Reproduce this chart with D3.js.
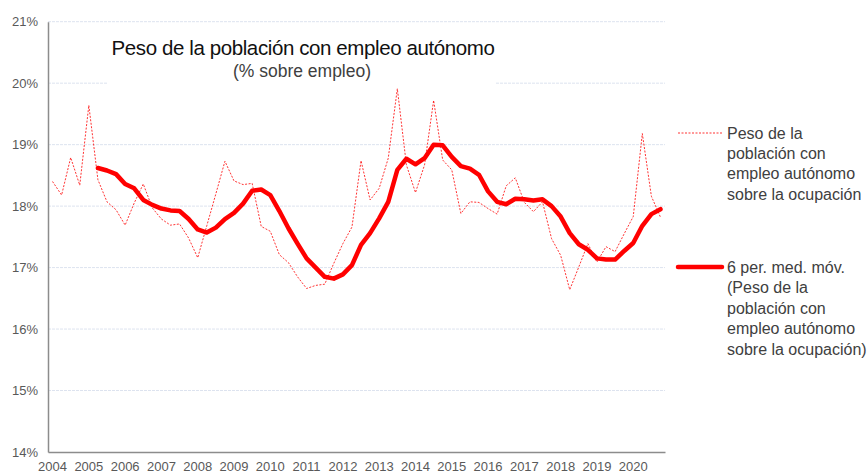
<!DOCTYPE html>
<html>
<head>
<meta charset="utf-8">
<script src="https://cdn.jsdelivr.net/npm/d3@7"></script>
<style>
  html, body { margin: 0; padding: 0; background: #fff; }
  svg { display: block; font-family: "Liberation Sans", Arial, Helvetica, sans-serif; }
</style>
</head>
<body>
<svg id="chart" width="868" height="475"></svg>
<script>
// ---- Data ----
const years = [2004,2005,2006,2007,2008,2009,2010,2011,2012,2013,2014,2015,2016,2017,2018,2019,2020];
const quarters = ["T1","T2","T3","T4"];
const categories = years.flatMap(yr => quarters.map(q => yr + "-" + q));

// Peso de la población con empleo autónomo sobre la ocupación (%)
const autonomo = [
  18.40,18.18,18.79,18.34,19.64,18.43,18.07,17.94,17.69,18.05,
  18.36,17.97,17.79,17.69,17.71,17.48,17.16,17.68,18.20,18.73,
  18.41,18.35,18.37,17.67,17.59,17.21,17.08,16.85,16.66,16.71,
  16.73,17.07,17.39,17.66,18.74,18.10,18.29,18.78,19.91,18.67,
  18.22,18.67,19.72,18.75,18.59,17.88,18.07,18.06,17.96,17.87,
  18.33,18.46,18.06,17.91,18.07,17.47,17.20,16.64,17.01,17.39,
  17.09,17.34,17.26,17.55,17.83,19.18,18.16,17.82
];
// 6 per. med. móv.
const mediaMovil = [
  null,null,null,null,null,
  18.62,18.58,18.52,18.36,18.29,18.10,18.02,17.96,17.93,17.92,
  17.79,17.62,17.57,17.65,17.79,17.89,18.04,18.25,18.27,18.18,
  17.92,17.64,17.39,17.15,17.00,16.85,16.82,16.89,17.04,17.37,
  17.56,17.80,18.07,18.59,18.77,18.68,18.78,19.00,18.99,18.80,
  18.65,18.61,18.51,18.24,18.07,18.03,18.12,18.11,18.09,18.11,
  18.00,17.83,17.56,17.38,17.29,17.15,17.13,17.13,17.27,17.40,
  17.68,17.87,17.95
];
const yTicks = [14,15,16,17,18,19,20,21];

const titleText = "Peso de la población con empleo autónomo";
const subtitleText = "(% sobre empleo)";
const legend1 = ["Peso de la","población con","empleo autónomo","sobre la ocupación"];
const legend2 = ["6 per. med. móv.","(Peso de la","población con","empleo autónomo","sobre la ocupación)"];

// ---- Layout ----
const svg = d3.select("#chart");
const plotL = 48, plotR = 665, plotT = 21.7, plotB = 452;

const x = d3.scaleBand().domain(categories).range([plotL, plotR]).padding(0);
const y = d3.scaleLinear().domain([14, 21]).range([plotB, plotT]);
const cx = c => x(c) + x.bandwidth() / 2;

// gridlines
svg.append("g").selectAll("line").data(yTicks.filter(t => t !== 14)).join("line")
  .attr("x1", plotL).attr("x2", plotR)
  .attr("y1", d => y(d)).attr("y2", d => y(d))
  .attr("stroke", "#dde3ef").attr("stroke-width", 1).attr("stroke-dasharray", "3,1");

// y axis
const yAxis = d3.axisLeft(y).tickValues(yTicks).tickFormat(d => d + "%").tickSize(0).tickPadding(10);
const gy = svg.append("g").attr("transform", `translate(${plotL},0)`).call(yAxis);
gy.select(".domain").attr("stroke", "#8c8c8c").attr("stroke-width", 1.5);
gy.selectAll("text").attr("fill", "#595959").style("font-size", "13px")
  .style("font-family", "'Liberation Sans', Arial, sans-serif");

// x axis
const xAxis = d3.axisBottom(x)
  .tickValues(categories.filter((c, i) => i % 4 === 0))
  .tickFormat(c => c.slice(0, 4)).tickSize(0).tickPadding(10);
const gx = svg.append("g").attr("transform", `translate(0,${plotB})`).call(xAxis);
gx.select(".domain").attr("stroke", "#8c8c8c").attr("stroke-width", 1.5);
gx.selectAll("text").attr("fill", "#595959").style("font-size", "13px")
  .style("font-family", "'Liberation Sans', Arial, sans-serif");

// title box (covers gridline)
svg.append("rect").attr("x", 108).attr("y", 30).attr("width", 388).attr("height", 56).attr("fill", "#fff");

// series
const line = d3.line()
  .defined(d => d.v != null)
  .x(d => cx(d.c)).y(d => y(d.v));

svg.append("path")
  .datum(categories.map((c, i) => ({c, v: autonomo[i]})))
  .attr("d", line).attr("fill", "none")
  .attr("stroke", "#ff0000").attr("stroke-width", 1)
  .attr("stroke-dasharray", "2,1.5").attr("opacity", 0.8);

svg.append("path")
  .datum(categories.map((c, i) => ({c, v: mediaMovil[i]})))
  .attr("d", line).attr("fill", "none")
  .attr("stroke", "#ff0000").attr("stroke-width", 4.5)
  .attr("stroke-linejoin", "round").attr("stroke-linecap", "round");

// title
svg.append("text").attr("x", 303).attr("y", 55).attr("text-anchor", "middle")
  .attr("fill", "#111").style("font-size", "20.5px").style("letter-spacing", "-0.4px")
  .text(titleText);
svg.append("text").attr("x", 302).attr("y", 77).attr("text-anchor", "middle")
  .attr("fill", "#404040").style("font-size", "17.5px")
  .text(subtitleText);

// legend
const lg = svg.append("g").style("font-size", "16px").attr("fill", "#404040");
lg.append("line").attr("x1", 678).attr("x2", 722).attr("y1", 133).attr("y2", 133)
  .attr("stroke", "#ff0000").attr("stroke-width", 1).attr("stroke-dasharray", "2,1.5").attr("opacity", 0.8);
lg.selectAll("text.l1").data(legend1).join("text").attr("class", "l1")
  .attr("x", 727).attr("y", (d, i) => 139 + i * 20.2).text(d => d);
lg.append("line").attr("x1", 678).attr("x2", 722).attr("y1", 267).attr("y2", 267)
  .attr("stroke", "#ff0000").attr("stroke-width", 4.5).attr("stroke-linecap", "round");
lg.selectAll("text.l2").data(legend2).join("text").attr("class", "l2")
  .attr("x", 727).attr("y", (d, i) => 273 + i * 20.4).text(d => d);
</script>
</body>
</html>
